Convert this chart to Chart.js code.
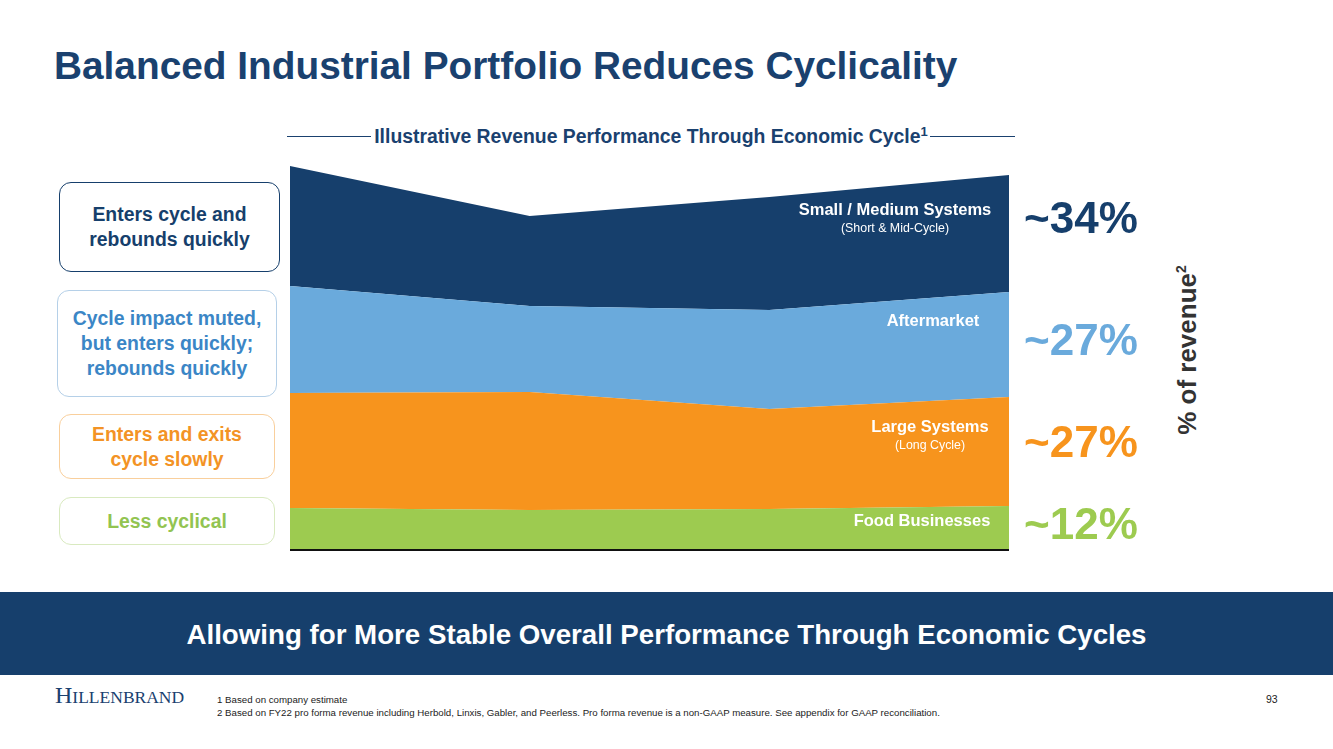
<!DOCTYPE html>
<html>
<head>
<meta charset="utf-8">
<script src="https://cdn.jsdelivr.net/npm/chart.js@4.4.0/dist/chart.umd.min.js"></script>
<style>
  body { margin:0; width:1333px; height:749px; position:relative; background:#fff; font-family:"Liberation Sans", Arial, sans-serif; overflow:hidden; }
  .abs { position:absolute; }
  #title { left:54px; top:44px; font-size:38.8px; font-weight:bold; color:#1a416f; white-space:nowrap; }
  #subtitle { left:287px; top:124px; width:728px; text-align:center; font-size:19.4px; font-weight:bold; color:#1a416f; white-space:nowrap; }
  .rule { position:absolute; top:136px; height:1px; background:#1a416f; }
  #chartWrap { left:290px; top:149px; width:719px; height:400px; border-bottom:2px solid #111; }
  .box { position:absolute; border-radius:12px; display:flex; align-items:center; justify-content:center; text-align:center; font-weight:bold; font-size:19.4px; line-height:25px; box-sizing:border-box; }
  .lbl { position:absolute; color:#fff; font-weight:bold; text-align:center; white-space:nowrap; font-size:16.5px; }
  .lbl small { display:block; font-weight:normal; font-size:12.4px; margin-top:2px; }
  .pct { position:absolute; left:1024px; font-size:44px; font-weight:bold; white-space:nowrap; }
  #revenue { left:1187px; top:350px; transform:translate(-50%,-50%) rotate(-90deg); font-size:26px; font-weight:bold; color:#333; white-space:nowrap; }
  #banner { left:0; top:592px; width:1333px; height:83px; background:#163f6c; color:#fff; font-size:27.7px; font-weight:bold; text-align:center; line-height:85px; }
  #logo { left:55px; top:683px; font-family:"Liberation Serif", serif; color:#1a416f; font-size:24px; line-height:24px; }
  #logo span { font-size:17.5px; }
  .foot { position:absolute; left:217px; font-size:9.7px; color:#222; white-space:nowrap; }
</style>
</head>
<body>
<div id="title" class="abs">Balanced Industrial Portfolio Reduces Cyclicality</div>
<div class="rule" style="left:287px; width:84px;"></div>
<div class="rule" style="left:930px; width:85px;"></div>
<div id="subtitle" class="abs">Illustrative Revenue Performance Through Economic Cycle<sup style="font-size:13px;">1</sup></div>

<div class="box" style="left:59px; top:182px; width:221px; height:90px; border:1.5px solid #163f6c; color:#163f6c;">Enters cycle and<br>rebounds quickly</div>
<div class="box" style="left:57px; top:290px; width:220px; height:107px; border:1px solid #b5d0e8; color:#3b86c6;">Cycle impact muted,<br>but enters quickly;<br>rebounds quickly</div>
<div class="box" style="left:59px; top:414px; width:216px; height:65px; border:1px solid #f9cf9c; color:#f39325;">Enters and exits<br>cycle slowly</div>
<div class="box" style="left:59px; top:497px; width:216px; height:48px; border:1px solid #d9eac0; color:#92c451;">Less cyclical</div>

<div id="chartWrap" class="abs"><canvas id="areaChart"></canvas></div>

<div class="lbl" style="left:795px; top:200px; width:200px;">Small / Medium Systems<small>(Short &amp; Mid-Cycle)</small></div>
<div class="lbl" style="left:833px; top:311px; width:200px;">Aftermarket</div>
<div class="lbl" style="left:830px; top:417px; width:200px;">Large Systems<small>(Long Cycle)</small></div>
<div class="lbl" style="left:822px; top:511px; width:200px;">Food Businesses</div>

<div class="pct" style="top:193px; color:#163f6c;">~34%</div>
<div class="pct" style="top:315px; color:#6aaadc;">~27%</div>
<div class="pct" style="top:417px; color:#f7941d;">~27%</div>
<div class="pct" style="top:499px; color:#9dcb50;">~12%</div>
<div id="revenue" class="abs">% of revenue<sup style="font-size:14px;">2</sup></div>

<div id="banner" class="abs">Allowing for More Stable Overall Performance Through Economic Cycles</div>

<div id="logo" class="abs">H<span>ILLENBRAND</span></div>
<div class="foot" style="top:694px;">1 Based on company estimate</div>
<div class="foot" style="top:707px;">2 Based on FY22 pro forma revenue including Herbold, Linxis, Gabler, and Peerless. Pro forma revenue is a non-GAAP measure. See appendix for GAAP reconciliation.</div>
<div class="abs" style="left:1266px; top:693px; font-size:10.5px; color:#222;">93</div>

<script>
// Cycle phases (illustrative)
const phases = ["Start", "Downturn", "Recovery", "End"];

// Illustrative revenue, stacked from bottom
const foodBusinesses = [41, 39, 40, 43];
const largeSystems = [115, 118, 100, 109];
const aftermarket = [107, 86, 99, 105];
const smallMediumSystems = [120, 90, 113, 117];

const yMax = 400;

const colors = {
  navy: "#163f6c",
  lightBlue: "#6aaadc",
  orange: "#f7941d",
  green: "#9dcb50"
};

function areaSet(label, data, color, fill) {
  return { label, data, backgroundColor: color, borderColor: color, borderWidth: 0, pointRadius: 0, fill, tension: 0 };
}

const ctx = document.getElementById("areaChart").getContext("2d");
new Chart(ctx, {
  type: "line",
  data: {
    labels: phases,
    datasets: [
      areaSet("Food Businesses", foodBusinesses, colors.green, "origin"),
      areaSet("Large Systems", largeSystems, colors.orange, "-1"),
      areaSet("Aftermarket", aftermarket, colors.lightBlue, "-1"),
      areaSet("Small / Medium Systems", smallMediumSystems, colors.navy, "-1")
    ]
  },
  options: {
    responsive: true,
    maintainAspectRatio: false,
    animation: false,
    layout: { padding: 0 },
    plugins: { legend: { display: false }, tooltip: { enabled: false } },
    scales: {
      x: { display: false, offset: false },
      y: { display: false, stacked: true, min: 0, max: yMax }
    }
  }
});
</script>
</body>
</html>
